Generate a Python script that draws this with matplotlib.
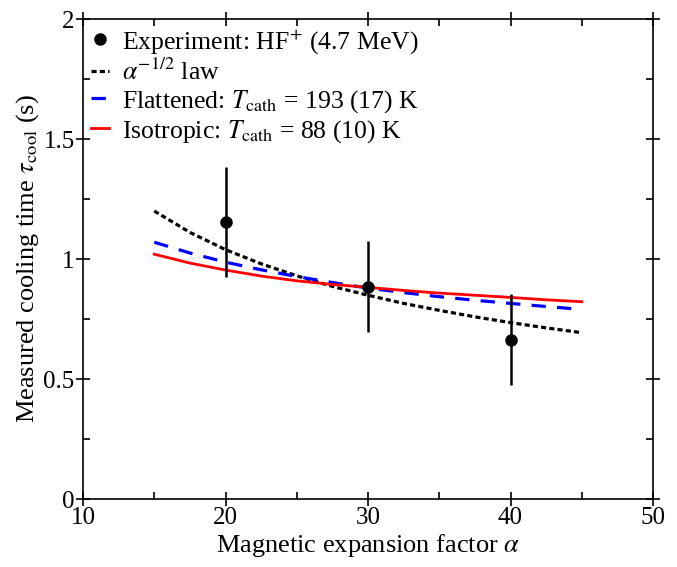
import matplotlib.pyplot as plt
from matplotlib.lines import Line2D

plt.rcParams["font.family"] = ["Liberation Serif", "DejaVu Serif"]
plt.rcParams["mathtext.fontset"] = "stix"

# experimental points
alpha_exp = [20, 30, 40]
tau_exp = [1.155, 0.885, 0.663]
tau_err = [0.23, 0.19, 0.19]

# model curves
alpha_fit = [15, 17.5, 20, 22.5, 25, 27.5, 30, 32.5, 35, 37.5, 40, 42.5, 45]
tau_law = [1.200, 1.111, 1.039, 0.980, 0.930, 0.886, 0.849, 0.815, 0.786, 0.759, 0.735, 0.713, 0.693]
tau_flat = [1.070, 1.025, 0.987, 0.955, 0.927, 0.902, 0.879, 0.860, 0.843, 0.828, 0.815, 0.802, 0.790]
tau_iso = [1.020, 0.983, 0.954, 0.929, 0.909, 0.894, 0.882, 0.869, 0.858, 0.849, 0.840, 0.830, 0.822]


def main() -> None:
    fig = plt.figure(figsize=(6.77, 5.67), dpi=100)
    ax = fig.add_axes([83 / 677, 68 / 567, 570 / 677, 480 / 567])

    ax.errorbar(alpha_exp, tau_exp, yerr=tau_err, fmt="o", color="black",
                ms=8, elinewidth=1.8, capsize=0, zorder=5)
    l_law, = ax.plot(alpha_fit, tau_law, color="black", lw=2.3, dashes=(1.6, 1.0))
    l_flat, = ax.plot(alpha_fit, tau_flat, color="blue", lw=2.3, dashes=(4.5, 3.5))
    l_iso, = ax.plot(alpha_fit, tau_iso, color="red", lw=2.0)

    exp_handle = Line2D([], [], marker="o", ls="none", color="black", ms=8)

    ax.set_xlim(10, 50)
    ax.set_ylim(0, 2)
    ax.set_xticks([10, 20, 30, 40, 50])
    ax.set_xticks([15, 25, 35, 45], minor=True)
    ax.set_yticks([0, 0.5, 1, 1.5, 2])
    ax.set_yticklabels(["0", "0.5", "1", "1.5", "2"])
    ax.set_yticks([0.25, 0.75, 1.25, 1.75], minor=True)
    ax.tick_params(which="major", direction="inout", length=10, width=1.2,
                   labelsize=18, top=True, right=True, pad=1)
    ax.tick_params(which="minor", direction="in", length=5, width=1.2,
                   top=True, right=True)
    for sp in ax.spines.values():
        sp.set_linewidth(1.2)

    ax.set_xlabel(r"Magnetic expansion factor $\alpha$", fontsize=19, labelpad=2)
    ax.set_ylabel(r"Measured cooling time $\tau_{\mathrm{cool}}$ (s)",
                  fontsize=19, labelpad=2)

    ax.legend([exp_handle, l_law, l_flat, l_iso],
              [r"Experiment: HF$^{+}$ (4.7 MeV)",
               r"$\alpha^{-1/2}$ law",
               r"Flattened: $T_{\mathrm{cath}}$ = 193 (17) K",
               r"Isotropic: $T_{\mathrm{cath}}$ = 88 (10) K"],
              loc="upper left", frameon=False, fontsize=18.5, handlelength=0.7,
              handletextpad=0.5, labelspacing=0.12, borderaxespad=0.05,
              borderpad=0.25)

    fig.savefig("out.png", dpi=100)


if __name__ == "__main__":
    main()
